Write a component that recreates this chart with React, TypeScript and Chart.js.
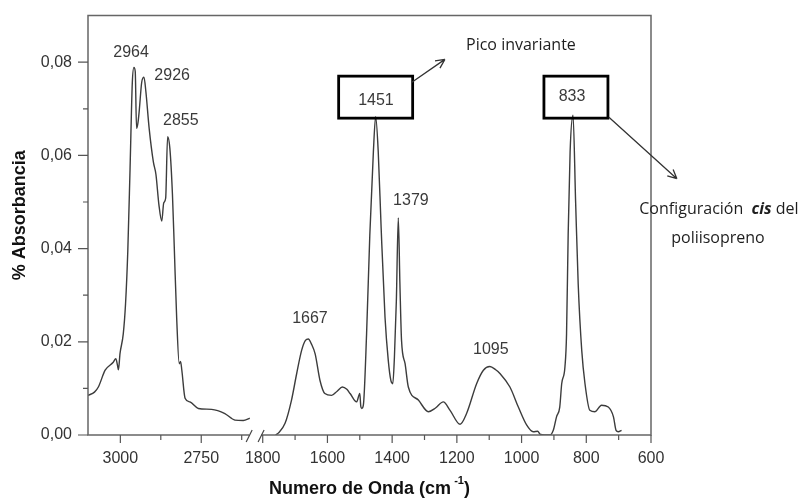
import React, { useEffect, useRef } from 'react';
import { Chart, registerables } from 'chart.js';

Chart.register(...registerables);

// ---- axis break mapping (wavenumber -> continuous coordinate) ----
const LEFT_START = 3100;
const RIGHT_START = 1800;
const RIGHT_OFFSET = 540;
const toU = (w: number) => (w > 2200 ? LEFT_START - w : RIGHT_OFFSET + (RIGHT_START - w));
const fromU = (u: number) => (u <= 520 ? LEFT_START - u : RIGHT_START - (u - RIGHT_OFFSET));

// ---- data: C-H stretching region ----
const waveHigh = [3100, 3080, 3068, 3047, 3022, 3014, 3009, 3006, 3001, 2991, 2984, 2977, 2970, 2963, 2958, 2954, 2950, 2946, 2942, 2934, 2927, 2921, 2911, 2898, 2890, 2881, 2872, 2866, 2860, 2854, 2847, 2839, 2833, 2826, 2818, 2814, 2810, 2800, 2785, 2759, 2718, 2677, 2646, 2620, 2600];
const absHigh = [0.0085, 0.0092, 0.0103, 0.0139, 0.0156, 0.0164, 0.0150, 0.0140, 0.0175, 0.0217, 0.0281, 0.0395, 0.0572, 0.0757, 0.0789, 0.0780, 0.0658, 0.0668, 0.0693, 0.0757, 0.0768, 0.0736, 0.0658, 0.0586, 0.0559, 0.0495, 0.0459, 0.0498, 0.0508, 0.0640, 0.0615, 0.0516, 0.0395, 0.0252, 0.0153, 0.0158, 0.0139, 0.0079, 0.0071, 0.0057, 0.0055, 0.0046, 0.0032, 0.0031, 0.0036];

// ---- data: fingerprint region ----
const waveLow = [1760, 1752, 1731, 1711, 1695, 1680, 1668, 1659, 1650, 1638, 1623, 1608, 1587, 1570, 1554, 1540, 1530, 1510, 1500, 1497, 1494, 1489, 1479, 1469, 1458, 1451, 1443, 1434, 1422, 1412, 1404, 1398, 1393, 1387, 1381, 1376, 1371, 1360, 1350, 1319, 1288, 1266, 1242, 1221, 1190, 1170, 1139, 1118, 1098, 1080, 1067, 1036, 1010, 984, 964, 950, 943, 912, 902, 892, 882, 876, 866, 861, 856, 850, 841, 833, 825, 814, 804, 789, 773, 753, 732, 716, 708, 701, 691];
const absLow = [0.0, 0.0004, 0.0025, 0.0075, 0.0132, 0.0181, 0.0203, 0.0206, 0.0196, 0.0174, 0.0117, 0.0089, 0.0085, 0.0094, 0.0103, 0.0098, 0.0089, 0.0071, 0.0089, 0.0062, 0.0057, 0.0064, 0.0217, 0.0430, 0.0608, 0.0683, 0.0608, 0.0444, 0.0252, 0.0160, 0.0117, 0.0110, 0.0167, 0.0288, 0.0466, 0.0324, 0.0203, 0.0153, 0.0103, 0.0075, 0.0050, 0.0058, 0.0071, 0.0053, 0.0023, 0.0046, 0.0110, 0.0139, 0.0147, 0.0140, 0.0132, 0.0103, 0.0060, 0.0021, 0.0007, 0.0008, 0.0002, 0.0, 0.0010, 0.0039, 0.0060, 0.0110, 0.0146, 0.0217, 0.0430, 0.0608, 0.0686, 0.0501, 0.0324, 0.0181, 0.0110, 0.0053, 0.0050, 0.0064, 0.0060, 0.0039, 0.0010, 0.0007, 0.0010];

// ---- ticks ----
const xMajorTicks = [3000, 2750, 1800, 1600, 1400, 1200, 1000, 800, 600];
const xMinorTicks = [2875, 2625, 1700, 1500, 1300, 1100, 900, 700];
const yMajorTicks = [0, 0.02, 0.04, 0.06, 0.08];
const yMinorTicks = [0.01, 0.03, 0.05, 0.07];
const axisBreak = [2602, 1805];

// ---- annotations (anchored in data coordinates) ----
const peakLabels = [
  { text: '2964', w: 2967, a: 0.0821 },
  { text: '2926', w: 2840, a: 0.0772 },
  { text: '2855', w: 2813, a: 0.0674 },
  { text: '1667', w: 1654, a: 0.0250 },
  { text: '1379', w: 1342, a: 0.0503 },
  { text: '1095', w: 1095, a: 0.0183 },
];
const boxedLabels = [
  { text: '1451', w: 1451, a: 0.0725, tw: 1450, ta: 0.0718, bw: 74 },
  { text: '833', w: 832, a: 0.0725, tw: 844, ta: 0.0727, bw: 64 },
];
const arrows = [
  { w1: 1339, a1: 0.0757, w2: 1237, a2: 0.0806 },
  { w1: 730, a1: 0.0682, w2: 520, a2: 0.0550 },
];
const noteTexts = [
  { text: 'Pico invariante', w: 1002, a: 0.0836 },
  { text: 'poliisopreno', w: 393, a: 0.0422 },
];
const cisNote = { parts: ['Configuración  ', 'cis', ' del'], w: 390, a: 0.0484 };

const NUM_FONT = '16px "Liberation Sans", Arial, sans-serif';
const NOTE_FONT = '16px "Open Sans", "Noto Sans", sans-serif';

const decorPlugin = {
  id: 'decor',
  afterDraw(chart: any) {
    const { ctx, chartArea } = chart;
    const { left, right, top, bottom } = chartArea;
    const xs = chart.scales.x;
    const ys = chart.scales.y;
    const px = (w: number) => xs.getPixelForValue(toU(w));
    const py = (a: number) => ys.getPixelForValue(a);
    ctx.save();

    // frame with axis break
    const b1 = px(axisBreak[0]);
    const b2 = px(axisBreak[1]);
    ctx.strokeStyle = '#666';
    ctx.lineWidth = 1.5;
    ctx.beginPath();
    ctx.moveTo(b1, bottom);
    ctx.lineTo(left, bottom);
    ctx.lineTo(left, top);
    ctx.lineTo(right, top);
    ctx.lineTo(right, bottom);
    ctx.lineTo(b2, bottom);
    ctx.stroke();
    ctx.lineWidth = 1.2;
    ctx.strokeStyle = '#444';
    [b1, b2].forEach((bx) => {
      ctx.beginPath();
      ctx.moveTo(bx - 3, bottom + 7);
      ctx.lineTo(bx + 3, bottom - 5);
      ctx.stroke();
    });

    // ticks
    ctx.strokeStyle = '#555';
    ctx.lineWidth = 1.2;
    ctx.beginPath();
    xMajorTicks.forEach((w) => { const x = px(w); ctx.moveTo(x, bottom); ctx.lineTo(x, bottom + 8); });
    xMinorTicks.forEach((w) => { const x = px(w); ctx.moveTo(x, bottom); ctx.lineTo(x, bottom + 5); });
    yMajorTicks.forEach((a) => { const y = py(a); ctx.moveTo(left, y); ctx.lineTo(left - 10, y); });
    yMinorTicks.forEach((a) => { const y = py(a); ctx.moveTo(left, y); ctx.lineTo(left - 5, y); });
    ctx.stroke();

    // axis titles
    ctx.fillStyle = '#111';
    ctx.font = 'bold 18px "Liberation Sans", Arial, sans-serif';
    ctx.textBaseline = 'middle';
    const t1 = 'Numero de Onda (cm';
    const sup = '-1';
    const t2 = ')';
    const supFont = 'bold 11px "Liberation Sans", Arial, sans-serif';
    const w1 = ctx.measureText(t1).width;
    const w3 = ctx.measureText(t2).width;
    ctx.font = supFont;
    const w2 = ctx.measureText(sup).width + 3;
    const totalW = w1 + w2 + w3;
    const cx = (left + right) / 2;
    const sx = cx - totalW / 2;
    const ty = 489;
    ctx.font = 'bold 18px "Liberation Sans", Arial, sans-serif';
    ctx.textAlign = 'left';
    ctx.fillText(t1, sx, ty);
    ctx.font = supFont;
    ctx.fillText(sup, sx + w1 + 3, ty - 8);
    ctx.font = 'bold 18px "Liberation Sans", Arial, sans-serif';
    ctx.fillText(t2, sx + w1 + w2, ty);

    ctx.save();
    ctx.translate(20, (top + bottom) / 2 - 10);
    ctx.rotate(-Math.PI / 2);
    ctx.textAlign = 'center';
    ctx.font = 'bold 18px "Liberation Sans", Arial, sans-serif';
    ctx.fillText('% Absorbancia', 0, 0);
    ctx.restore();

    // peak labels
    ctx.fillStyle = '#3a3a3a';
    ctx.font = NUM_FONT;
    ctx.textAlign = 'center';
    ctx.textBaseline = 'middle';
    peakLabels.forEach((p) => ctx.fillText(p.text, px(p.w), py(p.a)));

    // boxed labels
    boxedLabels.forEach((b) => {
      const bx = px(b.w);
      const by = py(b.a);
      ctx.strokeStyle = '#000';
      ctx.lineWidth = 2.8;
      ctx.strokeRect(bx - b.bw / 2, by - 21, b.bw, 42);
      ctx.fillStyle = '#3a3a3a';
      ctx.fillText(b.text, px(b.tw), py(b.ta));
    });

    // arrows
    ctx.strokeStyle = '#333';
    ctx.lineWidth = 1.3;
    arrows.forEach((ar) => {
      const x1 = px(ar.w1), y1 = py(ar.a1), x2 = px(ar.w2), y2 = py(ar.a2);
      ctx.beginPath();
      ctx.moveTo(x1, y1);
      ctx.lineTo(x2, y2);
      const ang = Math.atan2(y2 - y1, x2 - x1);
      const hl = 10;
      ctx.moveTo(x2, y2);
      ctx.lineTo(x2 - hl * Math.cos(ang - 0.45), y2 - hl * Math.sin(ang - 0.45));
      ctx.moveTo(x2, y2);
      ctx.lineTo(x2 - hl * Math.cos(ang + 0.45), y2 - hl * Math.sin(ang + 0.45));
      ctx.stroke();
    });

    // notes
    ctx.fillStyle = '#1e1e1e';
    ctx.font = NOTE_FONT;
    noteTexts.forEach((n) => ctx.fillText(n.text, px(n.w), py(n.a)));

    const fonts = [NOTE_FONT, 'italic bold 16px "Open Sans", "Noto Sans", sans-serif', NOTE_FONT];
    const widths = cisNote.parts.map((t, i) => { ctx.font = fonts[i]; return ctx.measureText(t).width; });
    const tot = widths.reduce((s, v) => s + v, 0);
    let cxn = px(cisNote.w) - tot / 2;
    const cyn = py(cisNote.a);
    ctx.textAlign = 'left';
    cisNote.parts.forEach((t, i) => {
      ctx.font = fonts[i];
      ctx.fillText(t, cxn, cyn);
      cxn += widths[i];
    });

    ctx.restore();
  },
};

export default function App() {
  const canvasRef = useRef<HTMLCanvasElement | null>(null);

  useEffect(() => {
    if (!canvasRef.current) return;
    const lineStyle = {
      borderColor: '#3c3c3c',
      borderWidth: 1.4,
      pointRadius: 0,
      fill: false,
      cubicInterpolationMode: 'monotone' as const,
    };
    const chart = new Chart(canvasRef.current, {
      type: 'line',
      data: {
        datasets: [
          { ...lineStyle, data: waveHigh.map((w, i) => ({ x: toU(w), y: absHigh[i] })) },
          { ...lineStyle, data: waveLow.map((w, i) => ({ x: toU(w), y: absLow[i] })) },
        ],
      },
      options: {
        animation: false,
        responsive: false,
        devicePixelRatio: 1,
        layout: { padding: { left: 0, right: 161, top: 13, bottom: 0 } },
        plugins: { legend: { display: false }, tooltip: { enabled: false } },
        scales: {
          x: {
            type: 'linear',
            min: 0,
            max: toU(600),
            afterFit: (s: any) => { s.height = 65; },
            afterBuildTicks: (s: any) => { s.ticks = xMajorTicks.map((w) => ({ value: toU(w) })); },
            grid: { drawOnChartArea: false, drawTicks: true, tickLength: 8, color: 'transparent', tickColor: 'transparent' },
            border: { display: false },
            ticks: {
              autoSkip: false,
              maxRotation: 0,
              padding: 6,
              color: '#333',
              font: { family: '"Liberation Sans", Arial, sans-serif', size: 16 },
              callback: (v: any) => String(Math.round(fromU(Number(v)))),
            },
          },
          y: {
            type: 'linear',
            min: 0,
            max: 0.09,
            afterFit: (s: any) => { s.width = 88; },
            afterBuildTicks: (s: any) => { s.ticks = yMajorTicks.map((a) => ({ value: a })); },
            grid: { drawOnChartArea: false, drawTicks: true, tickLength: 10, color: 'transparent', tickColor: 'transparent' },
            border: { display: false },
            ticks: {
              padding: 6,
              color: '#333',
              font: { family: '"Liberation Sans", Arial, sans-serif', size: 16 },
              callback: (v: any) => Number(v).toFixed(2).replace('.', ','),
            },
          },
        },
      },
      plugins: [decorPlugin],
    });
    return () => chart.destroy();
  }, []);

  return (
    <div style={{ position: 'absolute', left: 0, top: 0, width: 812, height: 500, background: '#fff' }}>
      <canvas ref={canvasRef} width={812} height={500} />
    </div>
  );
}
